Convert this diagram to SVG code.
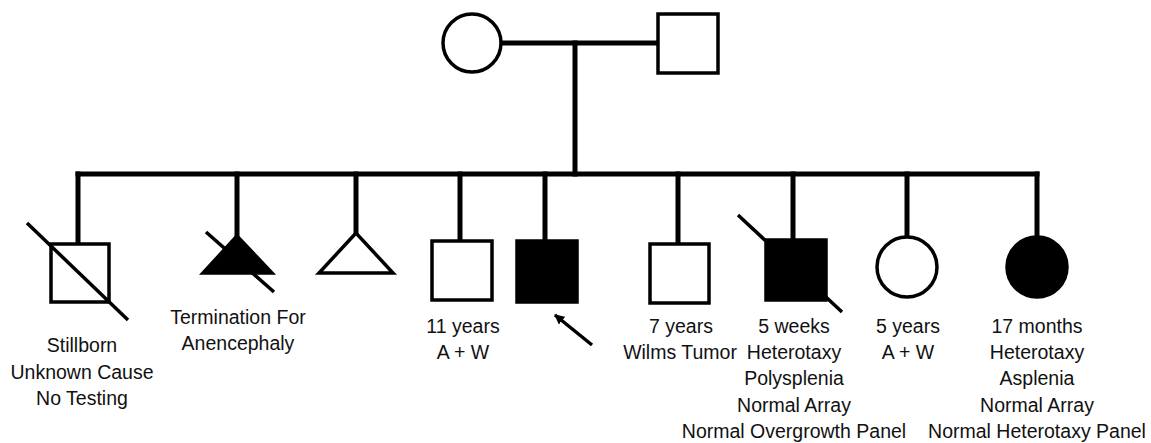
<svg xmlns="http://www.w3.org/2000/svg" width="1151" height="443" viewBox="0 0 1151 443">
<style>
.c{fill:none;stroke:#000;stroke-width:5;stroke-linecap:square}
.o{fill:#fff;stroke:#000;stroke-width:3.5}
.f{fill:#000;stroke:#000;stroke-width:3.5}
.d{stroke:#000;stroke-width:3.5}
text{font-family:"Liberation Sans",Arial,sans-serif;font-size:19.5px;fill:#111;text-anchor:middle}
</style>
<defs>
<marker id="ah" markerWidth="10" markerHeight="10" refX="9" refY="5" orient="auto" markerUnits="userSpaceOnUse" viewBox="0 0 10 10">
<path d="M0,0 L10,5 L0,10 z" fill="#000"/>
</marker>
</defs>
<g id="connectors">
<line class="c" x1="502" y1="43" x2="658" y2="43"/>
<line class="c" x1="575" y1="43" x2="575" y2="174"/>
<line class="c" x1="78" y1="174" x2="1037" y2="174"/>
<line class="c" x1="78" y1="174" x2="78" y2="244"/>
<line class="c" x1="237" y1="174" x2="237" y2="236"/>
<line class="c" x1="356" y1="174" x2="356" y2="233"/>
<line class="c" x1="460" y1="174" x2="460" y2="241"/>
<line class="c" x1="545" y1="174" x2="545" y2="241"/>
<line class="c" x1="678" y1="174" x2="678" y2="244"/>
<line class="c" x1="793" y1="174" x2="793" y2="240"/>
<line class="c" x1="907" y1="174" x2="907" y2="237"/>
<line class="c" x1="1037" y1="174" x2="1037" y2="237"/>
</g>
<g id="mother"><circle class="o" cx="472" cy="43" r="29"/></g>
<g id="father"><rect class="o" x="658" y="14" width="60" height="59"/></g>
<g id="child1">
<rect class="o" x="51" y="244" width="58" height="58"/>
<line class="d" x1="27" y1="223" x2="128" y2="320"/>
<text x="82" y="352">Stillborn</text>
<text x="82" y="379">Unknown Cause</text>
<text x="82" y="405">No Testing</text>
</g>
<g id="child2">
<polygon class="f" points="237,236 203,273 272,273"/>
<line class="d" x1="206" y1="232" x2="274" y2="292"/>
<text x="238" y="324">Termination For</text>
<text x="238" y="350">Anencephaly</text>
</g>
<g id="child3">
<polygon class="o" points="356,233 319,273 393,273"/>
</g>
<g id="child4">
<rect class="o" x="432" y="241" width="60" height="59"/>
<text x="463" y="333">11 years</text>
<text x="463" y="359">A + W</text>
</g>
<g id="child5">
<rect class="f" x="517" y="241" width="60" height="61"/>
<line class="d" x1="592" y1="345" x2="555" y2="315" marker-end="url(#ah)"/>
</g>
<g id="child6">
<rect class="o" x="650" y="244" width="59" height="59"/>
<text x="681" y="333">7 years</text>
<text x="680" y="359">Wilms Tumor</text>
</g>
<g id="child7">
<rect class="f" x="766" y="240" width="60" height="60"/>
<line class="d" x1="738" y1="215" x2="842" y2="312"/>
<text x="794" y="333">5 weeks</text>
<text x="794" y="359">Heterotaxy</text>
<text x="794" y="385">Polysplenia</text>
<text x="794" y="412">Normal Array</text>
<text x="794" y="438">Normal Overgrowth Panel</text>
</g>
<g id="child8">
<circle class="o" cx="907" cy="267" r="30"/>
<text x="908" y="333">5 years</text>
<text x="908" y="359">A + W</text>
</g>
<g id="child9">
<circle class="f" cx="1037" cy="267" r="30"/>
<text x="1037" y="333">17 months</text>
<text x="1037" y="359">Heterotaxy</text>
<text x="1037" y="385">Asplenia</text>
<text x="1037" y="412">Normal Array</text>
<text x="1037" y="438">Normal Heterotaxy Panel</text>
</g>
</svg>
